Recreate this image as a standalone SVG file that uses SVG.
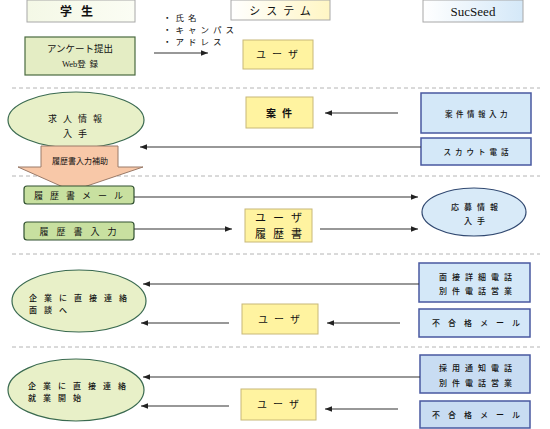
<svg xmlns="http://www.w3.org/2000/svg" width="550" height="429" viewBox="0 0 550 429">
<defs>
<linearGradient id="gG" x1="0" y1="0" x2="1" y2="0"><stop offset="0" stop-color="#f4f8e6"/><stop offset="1" stop-color="#fbfdf4"/></linearGradient>
<linearGradient id="gY" x1="0" y1="0" x2="1" y2="0"><stop offset="0" stop-color="#ffffff"/><stop offset="1" stop-color="#fff6c4"/></linearGradient>
<linearGradient id="gB" x1="0" y1="0" x2="1" y2="0"><stop offset="0" stop-color="#ffffff"/><stop offset="1" stop-color="#d4e8f8"/></linearGradient>
<marker id="ah" viewBox="0 0 10 10" refX="10" refY="5" markerWidth="7" markerHeight="7" markerUnits="userSpaceOnUse" orient="auto"><path d="M0,1 L10,5 L0,9 z" fill="#222"/></marker>
</defs>
<style>
text{font-family:"Noto Sans CJK JP","Liberation Sans",sans-serif;fill:#111;}
.hdr{stroke:#a8a8a8;stroke-width:1;}
.yel{fill:#fff3a0;stroke:#c8b878;stroke-width:1;}
.blu{fill:#d4e8f8;stroke:#4858a0;stroke-width:1.5;}
.blu2{fill:#c8dcf2;stroke:#4858a0;stroke-width:1.5;}
.grn{fill:#c8e0a0;stroke:#305030;stroke-width:1.2;}
.ell{fill:#e8f0c8;stroke:#3a6a50;stroke-width:1.2;}
.dash{stroke:#b4b4b4;stroke-width:1;stroke-dasharray:4 3;fill:none;}
.ar{stroke:#333;stroke-width:1.2;fill:none;marker-end:url(#ah);}
.sm{font-weight:500;}
</style>

<g id="separators">
<line class="dash" x1="12" y1="88" x2="540" y2="88"/>
<line class="dash" x1="12" y1="176" x2="540" y2="176"/>
<line class="dash" x1="12" y1="254" x2="540" y2="254"/>
<line class="dash" x1="12" y1="347" x2="540" y2="347"/>
</g>

<g id="h-student"><rect class="hdr" x="27" y="0" width="108" height="22" fill="url(#gG)"/><text x="81" y="16" font-size="12" font-weight="bold" text-anchor="middle" letter-spacing="9">学生</text></g>
<g id="h-system"><rect class="hdr" x="231" y="0" width="99" height="20" fill="url(#gY)"/><text x="283" y="15" font-size="11" text-anchor="middle" letter-spacing="6">システム</text></g>
<g id="h-sucseed"><rect class="hdr" x="423" y="0" width="100" height="22" fill="url(#gB)"/><text x="473" y="16" font-size="13" text-anchor="middle" style="font-family:'Liberation Serif',serif">SucSeed</text></g>

<g id="n-enquete"><rect x="25" y="37" width="110" height="38" fill="#e4edc4" stroke="#4a6a40" stroke-width="1.2"/><text x="80" y="52" font-size="9.5" text-anchor="middle">アンケート提出</text><text x="80" y="67" font-size="8.5" text-anchor="middle"><tspan style="font-family:'Liberation Serif',serif">Web</tspan>登&#160;&#160;録</text></g>

<g id="l-info" font-size="8.5"><text x="163" y="21" letter-spacing="4">・氏名</text><text x="163" y="33" letter-spacing="4">・キャンパス</text><text x="163" y="45" letter-spacing="4">・アドレス</text></g>

<g id="n-user1"><rect class="yel" x="243" y="40" width="70" height="29"/><text x="280" y="58" font-size="10" text-anchor="middle" letter-spacing="6">ユーザ</text></g>

<g id="n-kyujin"><ellipse class="ell" cx="76" cy="120" rx="68" ry="28"/><text x="78" y="122" font-size="9" text-anchor="middle" letter-spacing="6">求人情報</text><text x="78" y="137" font-size="9" text-anchor="middle" letter-spacing="6">入手</text></g>

<g id="n-hojo"><path d="M41,146 L118,146 L118,167 L143,167 L72,191 L18,167 L41,167 Z" fill="#f8c8a8" stroke="#9a7a68" stroke-width="1"/><text x="80" y="164" font-size="8" text-anchor="middle">履歴書入力補助</text></g>

<g id="n-anken"><rect class="yel" x="246" y="97" width="67" height="31"/><text x="282" y="117" font-size="10" font-weight="bold" text-anchor="middle" letter-spacing="6">案件</text></g>

<g id="n-ankeninput"><rect class="blu" x="421" y="93" width="110" height="40"/><text class="sm" x="478" y="117" font-size="7.5" text-anchor="middle" letter-spacing="3.5">案件情報入力</text></g>
<g id="n-scout"><rect class="blu" x="421" y="138" width="110" height="27"/><text class="sm" x="478" y="155" font-size="7.5" text-anchor="middle" letter-spacing="4">スカウト電話</text></g>

<g id="n-rirekimail"><rect class="grn" x="24" y="186" width="110" height="18" rx="3"/><text x="82" y="199" font-size="9" text-anchor="middle" letter-spacing="7">履歴書メール</text></g>
<g id="n-rirekiinput"><rect class="grn" x="24" y="222" width="110" height="18" rx="3"/><text x="82" y="235" font-size="9" text-anchor="middle" letter-spacing="8">履歴書入力</text></g>

<g id="n-userrireki"><rect class="yel" x="245" y="209" width="67" height="33"/><text x="282" y="222" font-size="11" text-anchor="middle" letter-spacing="7">ユーザ</text><text x="282" y="238" font-size="11" text-anchor="middle" letter-spacing="7">履歴書</text></g>

<g id="n-oubo"><ellipse cx="474" cy="212" rx="52" ry="24" fill="#d8eaf8" stroke="#304870" stroke-width="1.2"/><text class="sm" x="477" y="210" font-size="8" text-anchor="middle" letter-spacing="5">応募情報</text><text class="sm" x="477" y="224" font-size="8" text-anchor="middle" letter-spacing="5">入手</text></g>

<g id="n-mendan"><ellipse class="ell" cx="79" cy="301" rx="67" ry="31"/><text class="sm" x="29" y="301" font-size="8" letter-spacing="7">企業に直接連絡</text><text class="sm" x="29" y="313" font-size="8" letter-spacing="7">面談へ</text></g>
<g id="n-mensetsu"><rect class="blu" x="419" y="263" width="111" height="39"/><text class="sm" x="478" y="280" font-size="8" text-anchor="middle" letter-spacing="5">面接詳細電話</text><text class="sm" x="478" y="294" font-size="8" text-anchor="middle" letter-spacing="5">別件電話営業</text></g>
<g id="n-fugoukaku1"><rect class="blu" x="419" y="309" width="111" height="28"/><text class="sm" x="480" y="326" font-size="8" text-anchor="middle" letter-spacing="8">不合格メール</text></g>
<g id="n-user3"><rect class="yel" x="242" y="304" width="76" height="30"/><text x="282" y="323" font-size="10" text-anchor="middle" letter-spacing="6">ユーザ</text></g>

<g id="n-shugyou"><ellipse class="ell" cx="76" cy="390" rx="68" ry="31"/><text class="sm" x="28" y="389" font-size="8" letter-spacing="7">企業に直接連絡</text><text class="sm" x="28" y="401" font-size="8" letter-spacing="7">就業開始</text></g>
<g id="n-saiyou"><rect class="blu2" x="420" y="355" width="110" height="38"/><text class="sm" x="478" y="371" font-size="8" text-anchor="middle" letter-spacing="5">採用通知電話</text><text class="sm" x="478" y="386" font-size="8" text-anchor="middle" letter-spacing="5">別件電話営業</text></g>
<g id="n-fugoukaku2"><rect class="blu2" x="420" y="401" width="110" height="27"/><text class="sm" x="480" y="418" font-size="8" text-anchor="middle" letter-spacing="8">不合格メール</text></g>
<g id="n-user4"><rect class="yel" x="241" y="389" width="75" height="31"/><text x="281" y="408" font-size="10" text-anchor="middle" letter-spacing="6">ユーザ</text></g>

<g id="connectors">
<line class="ar" x1="154" y1="53" x2="208" y2="53"/>
<line class="ar" x1="398" y1="113" x2="325" y2="113"/>
<line class="ar" x1="421" y1="147" x2="140" y2="147"/>
<line class="ar" x1="134" y1="197" x2="418" y2="197"/>
<line class="ar" x1="134" y1="229" x2="232" y2="229"/>
<line class="ar" x1="320" y1="229" x2="418" y2="229"/>
<line class="ar" x1="419" y1="284" x2="143" y2="284"/>
<line class="ar" x1="400" y1="323" x2="327" y2="323"/>
<line class="ar" x1="229" y1="323" x2="141" y2="323"/>
<line class="ar" x1="420" y1="377" x2="143" y2="377"/>
<line class="ar" x1="398" y1="409" x2="325" y2="409"/>
<line class="ar" x1="229" y1="406" x2="141" y2="406"/>
</g>
</svg>
